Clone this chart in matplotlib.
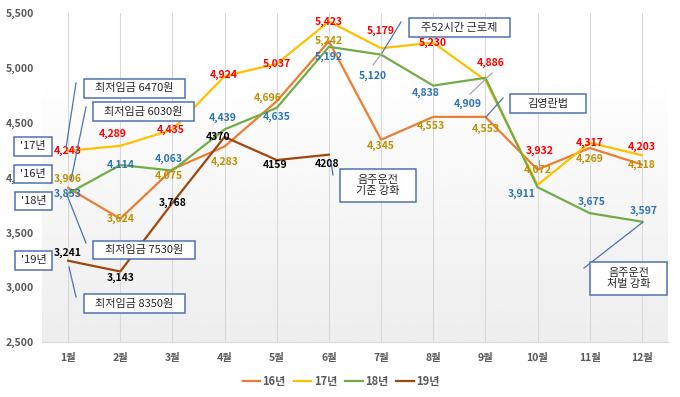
import numpy as np
import matplotlib
matplotlib.use("Agg")
import matplotlib.pyplot as plt
from matplotlib.patches import Rectangle
from matplotlib.lines import Line2D

plt.rcParams['font.family'] = ['Noto Sans CJK KR', 'DejaVu Sans']

# data
months = [f"{m}월" for m in range(1, 13)]
v16 = [3906, 3624, 4075, 4283, 4696, 5242, 4345, 4553, 4553, 4072, 4269, 4118]
v17 = [4243, 4289, 4435, 4924, 5037, 5423, 5179, 5230, 4886, 3932, 4317, 4203]
v18 = [3853, 4114, 4063, 4439, 4635, 5192, 5120, 4838, 4909, 3911, 3675, 3597]
v19 = [3241, 3143, 3768, 4370, 4159, 4208]
series_names = ["16년", "17년", "18년", "19년"]
yticks = [2500, 3000, 3500, 4000, 4500, 5000, 5500]

# label offsets in pixels (dx, dy down)
off16 = [(0, -9), (0, 0), (-4, 7), (0, 15), (-9, -3), (0, 0), (0, 6), (-2, 9), (0, 12), (0, 0), (0, 11), (0, 0)]
off17 = [(0, 0), (-8, -12), (-2, 0), (-1, -1), (0, 0), (0, 0), (0, -17), (0, 0), (5, -17), (2, -34), (0, 0), (0, -8)]
off18 = [(0, 0), (0, 0), (-4, -12), (-2, -11), (0, 9), (0, 10), (-8, 21), (-8, 7), (-18, 26), (-16, 7), (2, -11), (2, -11)]
off19 = [(0, -8), (0, 6), (0, 0), (-7, 0), (-2, 5), (-2, 9)]

W, H = 680, 397
fig = plt.figure(figsize=(6.8, 3.97), dpi=100)
ax = fig.add_axes([42 / W, 1 - 342 / H, 626 / W, 329 / H])

x = np.arange(1, 13)
ax.set_xlim(0.5, 12.5)
ax.set_ylim(2500, 5500)

# gradient background
grad = np.linspace(1.0, 0.93, 100).reshape(-1, 1)
ax.imshow(grad, cmap='gray', vmin=0, vmax=1, aspect='auto',
          extent=[0.5, 12.5, 2500, 5000], origin='upper', zorder=0)

for xi in x:
    ax.axvline(xi, color='#D9D9D9', lw=0.8, zorder=1)

c16, c17, c18, c19 = '#ED7D31', '#FFC000', '#70AD47', '#9E480E'
ax.plot(x, v16, color=c16, lw=1.6, label=series_names[0], zorder=3)
ax.plot(x, v17, color=c17, lw=1.6, label=series_names[1], zorder=3)
ax.plot(x, v18, color=c18, lw=1.6, label=series_names[2], zorder=3)
ax.plot(x[:len(v19)], v19, color=c19, lw=1.6, label=series_names[3], zorder=3)

def put_labels(vals, offs, color, texts=None):
    for i, v in enumerate(vals):
        t = texts[i] if texts else f"{v:,}"
        dx, dy = offs[i]
        ax.annotate(t, (x[i], v), xytext=(dx, -dy), textcoords='offset pixels',
                    ha='center', va='center', fontsize=7.5, fontweight='bold',
                    color=color, zorder=5)

put_labels(v16, off16, '#BF9000')
put_labels(v17, off17, '#FF0000')
put_labels(v18, off18, '#2E75B6')
lab19 = [f"{v:,}" for v in v19[:3]] + [str(v) for v in v19[3:]]
put_labels(v19, off19, '#000000', lab19)

ax.set_xticks(x)
ax.set_xticklabels(months, fontsize=7.5, fontweight='bold', color='#595959')
ax.set_yticks(yticks)
ax.set_yticklabels([f"{v:,}" for v in yticks], fontsize=7.5, fontweight='bold', color='#595959')
ax.tick_params(length=0, pad=8)
ax.tick_params(axis='y', pad=6)
for s in ['top', 'right', 'left']:
    ax.spines[s].set_visible(False)
ax.spines['bottom'].set_color('#D9D9D9')

fig.legend(loc='center', bbox_to_anchor=(341 / W, 1 - 381 / H), ncol=4, frameon=False,
           prop={'size': 8, 'weight': 'bold'}, labelcolor='#595959',
           handlelength=1.6, handletextpad=0.2, columnspacing=0.7)


def fx(px):
    return px / W


def fy(py):
    return 1 - py / H


def box(x0, y0, x1, y1, text, fs=8):
    fig.patches.append(Rectangle((fx(x0), fy(y1)), fx(x1) - fx(x0), fy(y0) - fy(y1),
                                 transform=fig.transFigure, facecolor='white',
                                 edgecolor='#4F72B0', lw=1.1, zorder=10))
    fig.text(fx((x0 + x1) / 2), fy((y0 + y1) / 2), text, ha='center', va='center',
             fontsize=fs, color='#262626', zorder=11, linespacing=1.1)


def link(x0, y0, x1, y1, color='#4F72B0'):
    fig.lines.append(Line2D([fx(x0), fx(x1)], [fy(y0), fy(y1)], transform=fig.transFigure,
                            color=color, lw=0.9, zorder=9))


link(76, 83, 66, 148)
link(86, 107, 71, 180)
link(67, 195, 86, 243)
link(69, 267, 76, 297)
link(401, 22, 382, 53)
link(382, 53, 373, 65, '#A6A6A6')
link(331, 162, 333, 175)
link(503, 98, 486, 117)
link(470, 94, 492, 73, '#A6A6A6')
link(643, 222, 584, 268)
link(539, 160, 539, 167, '#A6A6A6')

box(14, 137, 52, 156, "'17년")
box(14, 165, 52, 183, "'16년")
box(15, 192, 52, 210, "'18년")
box(15, 251, 52, 270, "'19년")
box(84, 79, 185, 98, "최저임금 6470원")
box(93, 102, 194, 121, "최저임금 6030원")
box(93, 241, 195, 259, "최저임금 7530원")
box(84, 294, 185, 313, "최저임금 8350원")
box(409, 18, 510, 37, "주52시간 근로제")
box(340, 169, 416, 202, "음주운전\n기준 강화")
box(510, 94, 586, 113, "김영란법")
box(590, 262, 667, 295, "음주운전\n처벌 강화")

fig.savefig("out.png", dpi=100)
